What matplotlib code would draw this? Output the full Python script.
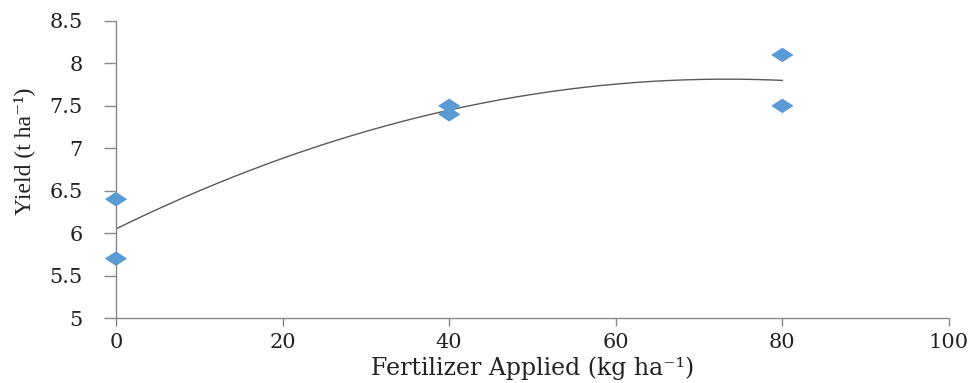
import matplotlib.pyplot as plt
import numpy as np

plt.rcParams['font.family'] = ['DejaVu Serif', 'Liberation Serif']

#--- Data
fertilizer = [0, 0, 40, 40, 80, 80]
yield_t = [6.4, 5.7, 7.5, 7.4, 8.1, 7.5]

x_ticks = [0, 20, 40, 60, 80, 100]
y_ticks = [5, 5.5, 6, 6.5, 7, 7.5, 8, 8.5]

#--- Polynomial (order 2) trendline, as in the spreadsheet chart
coef = np.polyfit(fertilizer, yield_t, 2)
x_fit = np.linspace(min(fertilizer), max(fertilizer), 200)
y_fit = np.polyval(coef, x_fit)

fig = plt.figure(figsize=(9.77, 3.83), dpi=100)
ax = fig.add_axes([0.1187, 0.1697, 0.8526, 0.7755])

diamond = [(-1, 0), (0, 0.65), (1, 0), (0, -0.65), (-1, 0)]
ax.plot(x_fit, y_fit, color="#595959", linewidth=1.0, zorder=2)
ax.scatter(fertilizer, yield_t, marker=diamond, s=260, color="#5B9BD5",
           edgecolors="none", zorder=3, clip_on=False)

ax.set_xlim(0, 100)
ax.set_ylim(5, 8.5)
ax.set_xticks(x_ticks)
ax.set_yticks(y_ticks)
ax.set_yticklabels([f"{v:g}" for v in y_ticks])

for side in ["top", "right"]:
    ax.spines[side].set_visible(False)
for side in ["left", "bottom"]:
    ax.spines[side].set_color("#898989")
    ax.spines[side].set_linewidth(1.0)

ax.tick_params(axis="y", direction="out", length=9, width=1, color="#898989",
               labelsize=15, labelcolor="#222222", pad=15)
ax.tick_params(axis="x", direction="out", length=6, width=1, color="#898989",
               labelsize=15, labelcolor="#222222", pad=5)

ax.set_xlabel("Fertilizer Applied (kg ha⁻¹)", fontsize=17, color="#222222",
              labelpad=3)
ax.set_ylabel("Yield (t ha⁻¹)", fontsize=17, color="#222222",
              family=["Liberation Serif", "DejaVu Serif"])
ax.yaxis.set_label_coords(-0.097, 0.56)

fig.savefig("out.png", dpi=100)
plt.close()
